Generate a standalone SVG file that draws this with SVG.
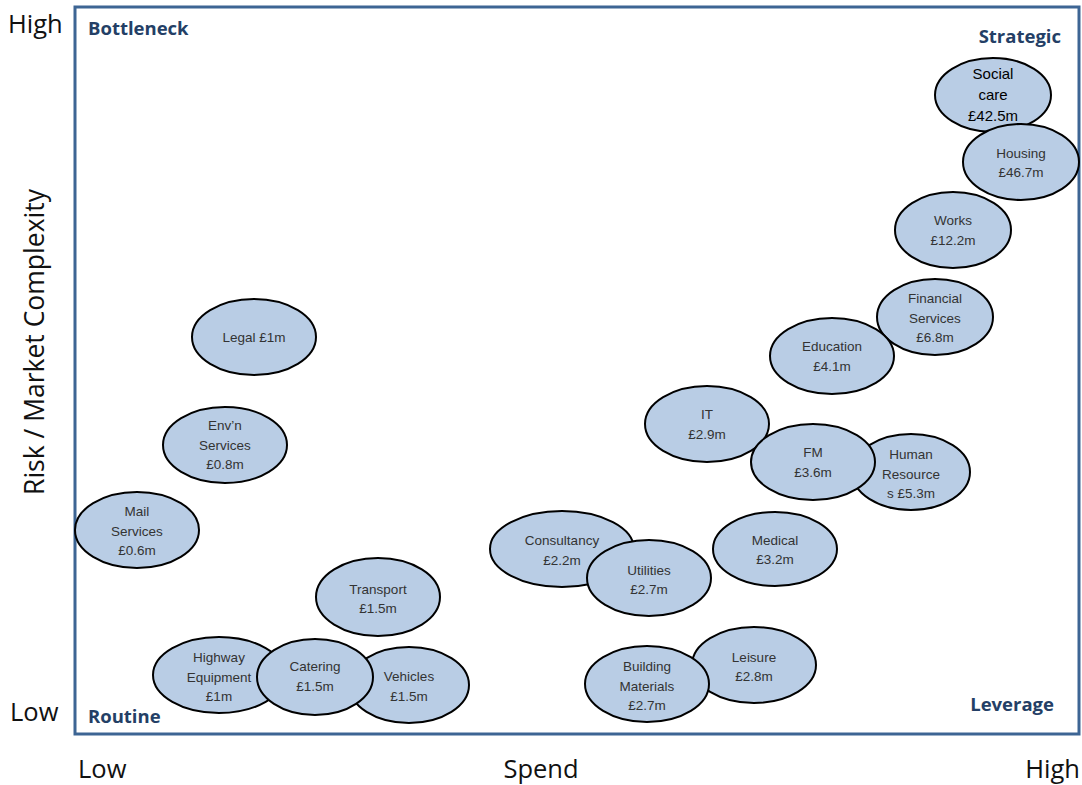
<svg xmlns="http://www.w3.org/2000/svg" width="1082" height="785" viewBox="0 0 1082 785">
<style>
.n ellipse{fill:#b9cde5;stroke:#000;stroke-width:2}
.n text{font-family:"Liberation Sans",Arial,sans-serif;font-size:13.5px;fill:#333;text-anchor:middle}
.q{font-family:"Open Sans","Liberation Sans",sans-serif;font-size:18.5px;font-weight:bold;fill:#243f66}
.ax{font-family:"Open Sans","Liberation Sans",sans-serif;font-size:25.5px;fill:#111}
</style>
<rect width="1082" height="785" fill="#fff"/>
<rect id="frame" x="75" y="7" width="1004" height="727" fill="none" stroke="#3d6594" stroke-width="3"/>
<g id="axes">
<text class="ax" x="8" y="33">High</text>
<text class="ax" x="10" y="721">Low</text>
<text class="ax" x="78" y="778">Low</text>
<text class="ax" x="541" y="778" text-anchor="middle">Spend</text>
<text class="ax" x="1080" y="778" text-anchor="end">High</text>
<text class="ax" transform="translate(44,342) rotate(-90)" text-anchor="middle" style="font-size:26.5px">Risk / Market Complexity</text>
</g>
<g id="quadrants">
<text class="q" x="88" y="35">Bottleneck</text>
<text class="q" x="1061" y="43" text-anchor="end">Strategic</text>
<text class="q" x="88" y="723">Routine</text>
<text class="q" x="1054" y="711" text-anchor="end">Leverage</text>
</g>
<g id="connectors"/>
<g id="social-care" class="n"><ellipse cx="993" cy="95" rx="58" ry="37"/><text x="993" y="79" style="fill:#000;font-size:15px">Social</text><text x="993" y="100" style="fill:#000;font-size:15px">care</text><text x="993" y="121" style="fill:#000;font-size:15px">£42.5m</text></g>
<g id="housing" class="n"><ellipse cx="1021" cy="162" rx="58" ry="38"/><text x="1021" y="158">Housing</text><text x="1021" y="177">£46.7m</text></g>
<g id="works" class="n"><ellipse cx="953" cy="230" rx="58" ry="38"/><text x="953" y="225">Works</text><text x="953" y="245">£12.2m</text></g>
<g id="financial" class="n"><ellipse cx="935" cy="317" rx="58" ry="38"/><text x="935" y="303">Financial</text><text x="935" y="323">Services</text><text x="935" y="342">£6.8m</text></g>
<g id="education" class="n"><ellipse cx="832" cy="356" rx="62" ry="38"/><text x="832" y="351">Education</text><text x="832" y="371">£4.1m</text></g>
<g id="it" class="n"><ellipse cx="707" cy="424" rx="62" ry="38"/><text x="707" y="419">IT</text><text x="707" y="439">£2.9m</text></g>
<g id="hr" class="n"><ellipse cx="911" cy="472" rx="59" ry="38"/><text x="911" y="459">Human</text><text x="911" y="479">Resource</text><text x="911" y="498">s £5.3m</text></g>
<g id="fm" class="n"><ellipse cx="813" cy="462" rx="62" ry="38"/><text x="813" y="457">FM</text><text x="813" y="477">£3.6m</text></g>
<g id="medical" class="n"><ellipse cx="775" cy="549" rx="62" ry="37"/><text x="775" y="545">Medical</text><text x="775" y="564">£3.2m</text></g>
<g id="consultancy" class="n"><ellipse cx="562" cy="549" rx="72" ry="38"/><text x="562" y="545">Consultancy</text><text x="562" y="565">£2.2m</text></g>
<g id="utilities" class="n"><ellipse cx="649" cy="578" rx="62" ry="38"/><text x="649" y="575">Utilities</text><text x="649" y="594">£2.7m</text></g>
<g id="leisure" class="n"><ellipse cx="754" cy="665" rx="62" ry="38"/><text x="754" y="662">Leisure</text><text x="754" y="681">£2.8m</text></g>
<g id="building" class="n"><ellipse cx="647" cy="684" rx="62" ry="38"/><text x="647" y="671">Building</text><text x="647" y="691">Materials</text><text x="647" y="710">£2.7m</text></g>
<g id="transport" class="n"><ellipse cx="378" cy="597" rx="62" ry="39"/><text x="378" y="594">Transport</text><text x="378" y="613">£1.5m</text></g>
<g id="highway" class="n"><ellipse cx="219" cy="675" rx="66" ry="38"/><text x="219" y="662">Highway</text><text x="219" y="682">Equipment</text><text x="219" y="701">£1m</text></g>
<g id="vehicles" class="n"><ellipse cx="409" cy="685" rx="60" ry="38"/><text x="409" y="681">Vehicles</text><text x="409" y="701">£1.5m</text></g>
<g id="catering" class="n"><ellipse cx="315" cy="677" rx="58" ry="38"/><text x="315" y="671">Catering</text><text x="315" y="691">£1.5m</text></g>
<g id="mail" class="n"><ellipse cx="137" cy="530" rx="62" ry="38"/><text x="137" y="516">Mail</text><text x="137" y="536">Services</text><text x="137" y="555">£0.6m</text></g>
<g id="envn" class="n"><ellipse cx="225" cy="445" rx="62" ry="38"/><text x="225" y="430">Env’n</text><text x="225" y="450">Services</text><text x="225" y="469">£0.8m</text></g>
<g id="legal" class="n"><ellipse cx="254" cy="337" rx="62" ry="38"/><text x="254" y="342">Legal £1m</text></g>
</svg>
